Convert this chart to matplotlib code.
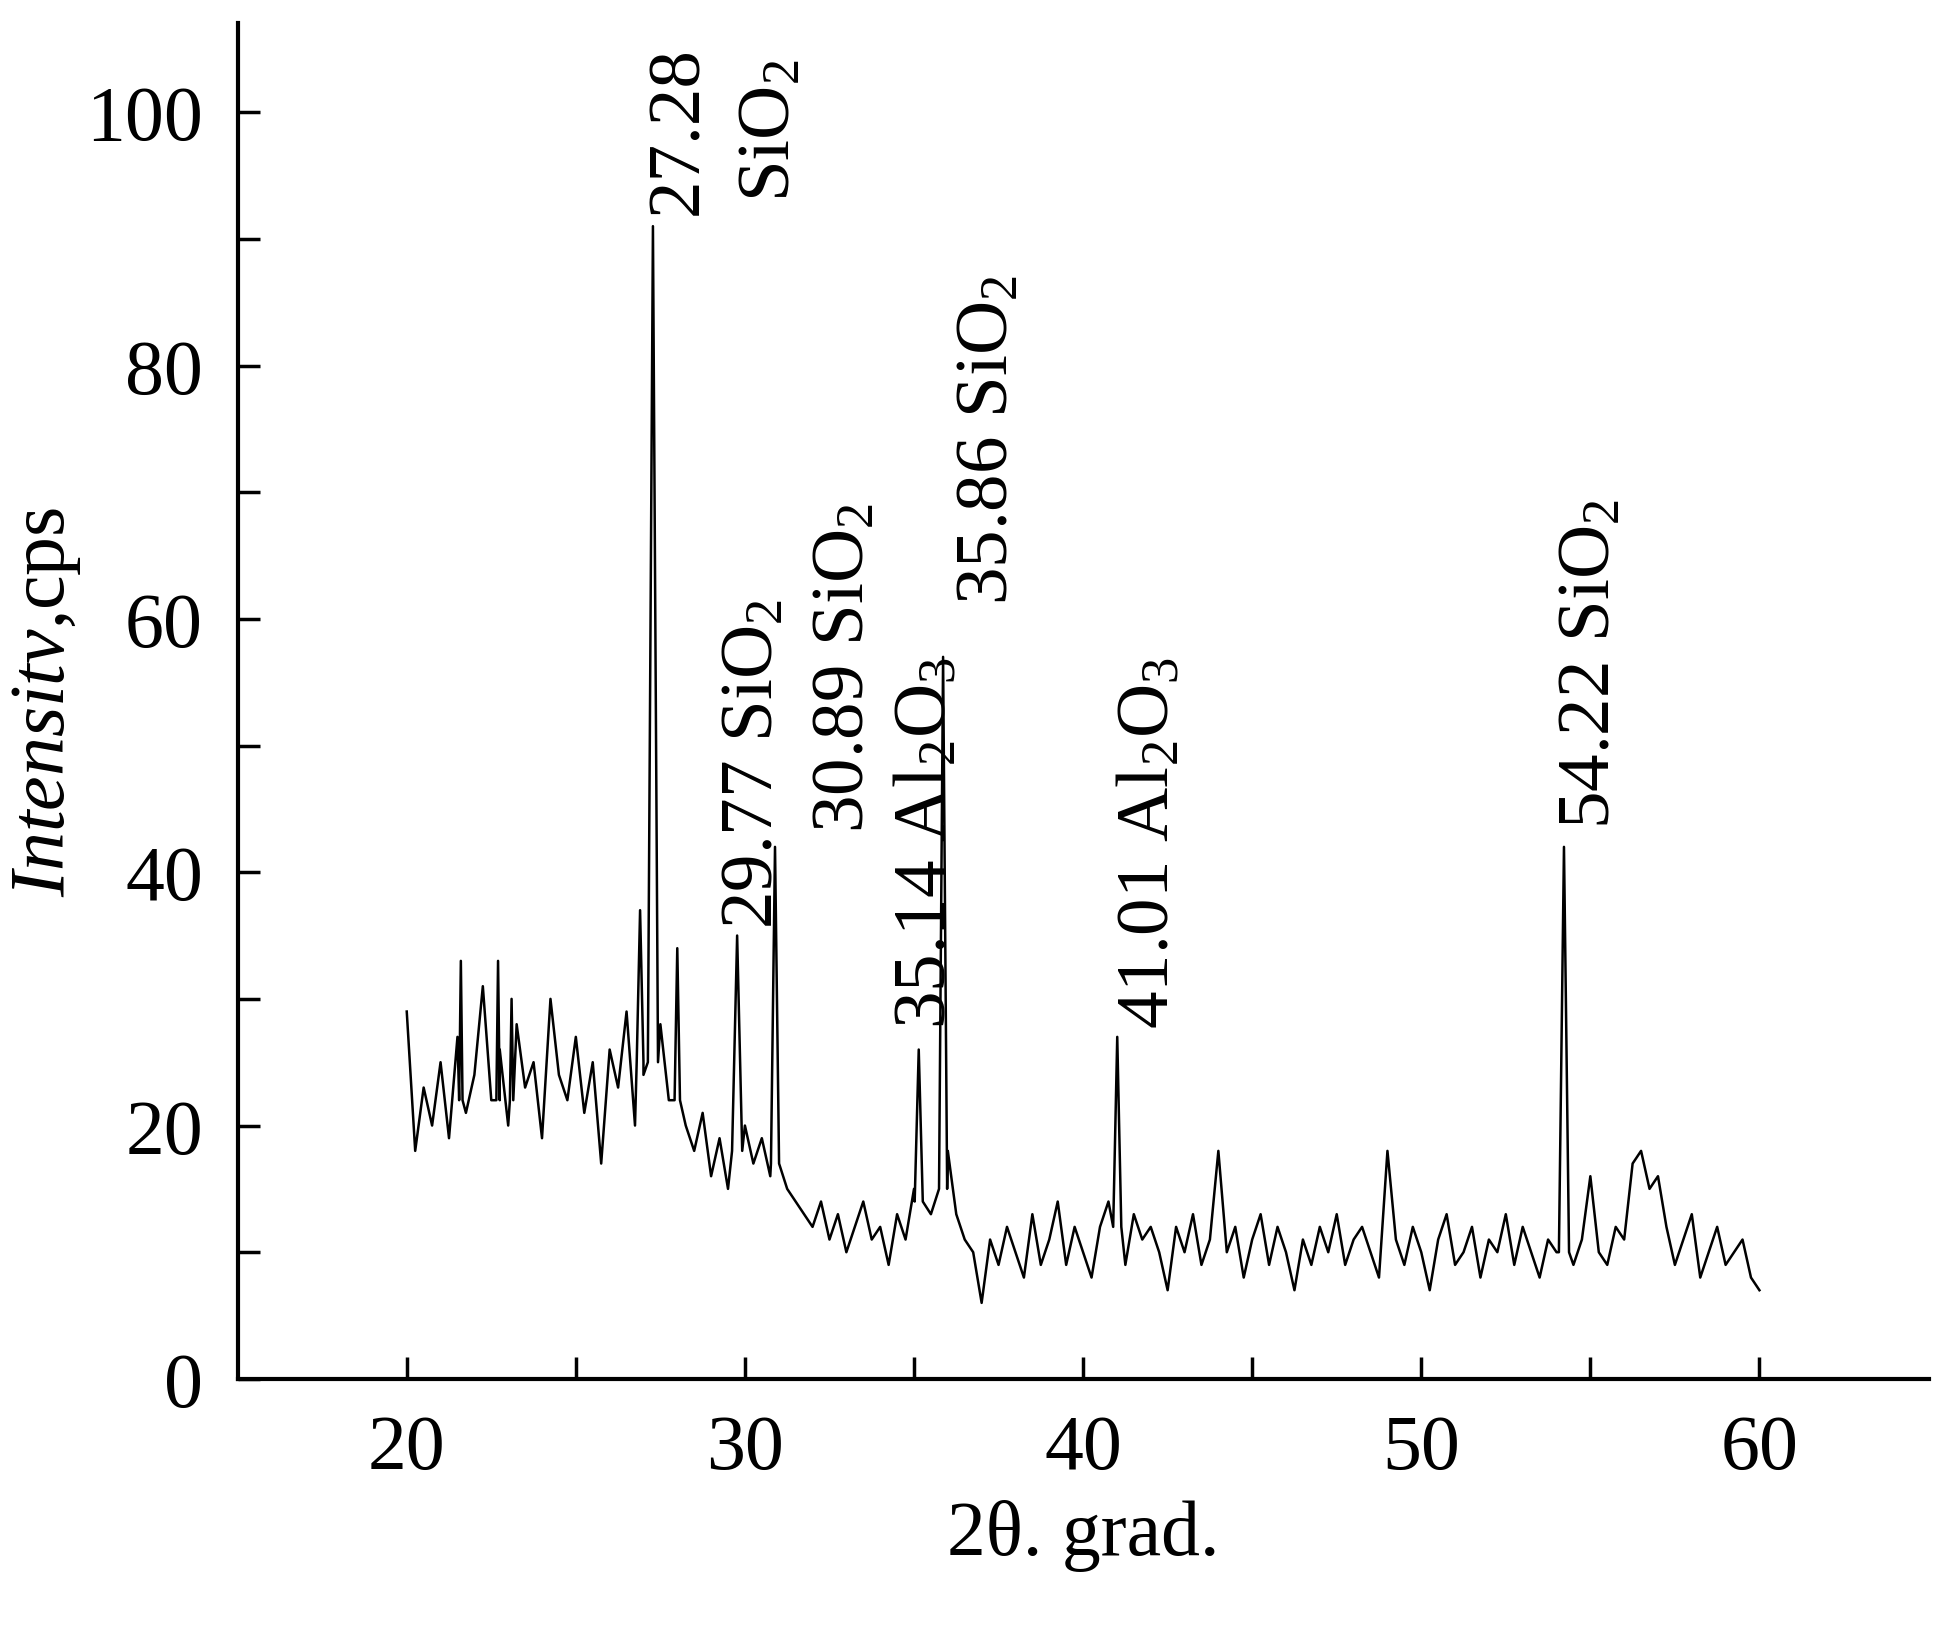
import numpy as np
import matplotlib
matplotlib.use("Agg")
import matplotlib.pyplot as plt

plt.rcParams['font.family'] = ['Liberation Serif', 'DejaVu Serif']
plt.rcParams['mathtext.fontset'] = 'custom'
plt.rcParams['mathtext.rm'] = 'Liberation Serif'
plt.rcParams['mathtext.it'] = 'Liberation Serif:italic'

# baseline readings every 0.25 deg from 20 to 60
base_start = 20.0
base_step = 0.25
base_y = [29, 18, 23, 20, 25, 19, 27, 21, 24, 31, 22, 26, 20, 28, 23, 25,
          19, 30, 24, 22, 27, 21, 25, 17, 26, 23, 29, 20, 24, 19, 28, 22,
          22, 20, 18, 21, 16, 19, 15, 22, 20, 17, 19, 16, 18, 15, 14, 13,
          12, 14, 11, 13, 10, 12, 14, 11, 12, 9, 13, 11, 15, 18, 13, 16,
          18, 13, 11, 10, 6, 11, 9, 12, 10, 8, 13, 9, 11, 14, 9, 12,
          10, 8, 12, 14, 10, 9, 13, 11, 12, 10, 7, 12, 10, 13, 9, 11,
          18, 10, 12, 8, 11, 13, 9, 12, 10, 7, 11, 9, 12, 10, 13, 9,
          11, 12, 10, 8, 18, 11, 9, 12, 10, 7, 11, 13, 9, 10, 12, 8,
          11, 10, 13, 9, 12, 10, 8, 11, 10, 12, 9, 11, 16, 10, 9, 12,
          11, 17, 18, 15, 16, 12, 9, 11, 13, 8, 10, 12, 9, 10, 11, 8,
          7]

# peaks: position, height
peak_x = [21.6, 22.7, 23.1, 26.9, 27.28, 28.0, 29.77, 30.89, 35.14, 35.86, 41.01, 54.22]
peak_y = [33, 33, 30, 37, 91, 34, 35, 42, 26, 57, 27, 42]
peak_base = [22, 22, 22, 25, 25, 22, 18, 17, 14, 15, 12, 10]
peak_half = [0.05, 0.05, 0.05, 0.1, 0.15, 0.08, 0.15, 0.12, 0.12, 0.12, 0.12, 0.15]

labels = [(28.07, 92, "27.28"), (30.8, 93, "SiO$_2$"),
          (30.3, 35.6, "29.77 SiO$_2$"), (33.0, 43.2, "30.89 SiO$_2$"),
          (35.4, 27.7, "35.14 Al$_2$O$_3$"), (37.25, 61.2, "35.86 SiO$_2$"),
          (42.0, 27.7, "41.01 Al$_2$O$_3$"), (55.05, 43.5, "54.22 SiO$_2$")]

bx = base_start + base_step * np.arange(len(base_y))
by = np.array(base_y, float)
keep = np.ones(len(bx), bool)
px, py = [], []
for x, h, b, w in zip(peak_x, peak_y, peak_base, peak_half):
    keep &= np.abs(bx - x) > w
    px += [x - w, x, x + w]
    py += [b, h, b]
x_all = np.concatenate([bx[keep], px])
y_all = np.concatenate([by[keep], py])
order = np.argsort(x_all)

fig = plt.figure(figsize=(19.48, 16.33), dpi=100)
ax = fig.add_axes([0.122, 0.155, 0.868, 0.83])
ax.plot(x_all[order], y_all[order], color='black', lw=1.8)

ax.set_xlim(15, 65)
ax.set_ylim(0, 107)
ax.spines['top'].set_visible(False)
ax.spines['right'].set_visible(False)
for s in ['left', 'bottom']:
    ax.spines[s].set_linewidth(3)
ax.set_xticks([20, 30, 40, 50, 60])
ax.set_xticks([25, 35, 45, 55], minor=True)
ax.set_yticks([0, 20, 40, 60, 80, 100])
ax.set_yticks([10, 30, 50, 70, 90], minor=True)
ax.tick_params(which='both', direction='in', length=16, width=2.5, labelsize=56, pad=25)

for x, y, t in labels:
    ax.text(x, y, t, rotation=90, ha='center', va='bottom', fontsize=54)

ax.set_xlabel("2θ. grad.", fontsize=56, labelpad=10)
ax.set_ylabel(r"$\it{Intensitv}$,cps", fontsize=56, labelpad=2)

fig.savefig("out.png", dpi=100)
